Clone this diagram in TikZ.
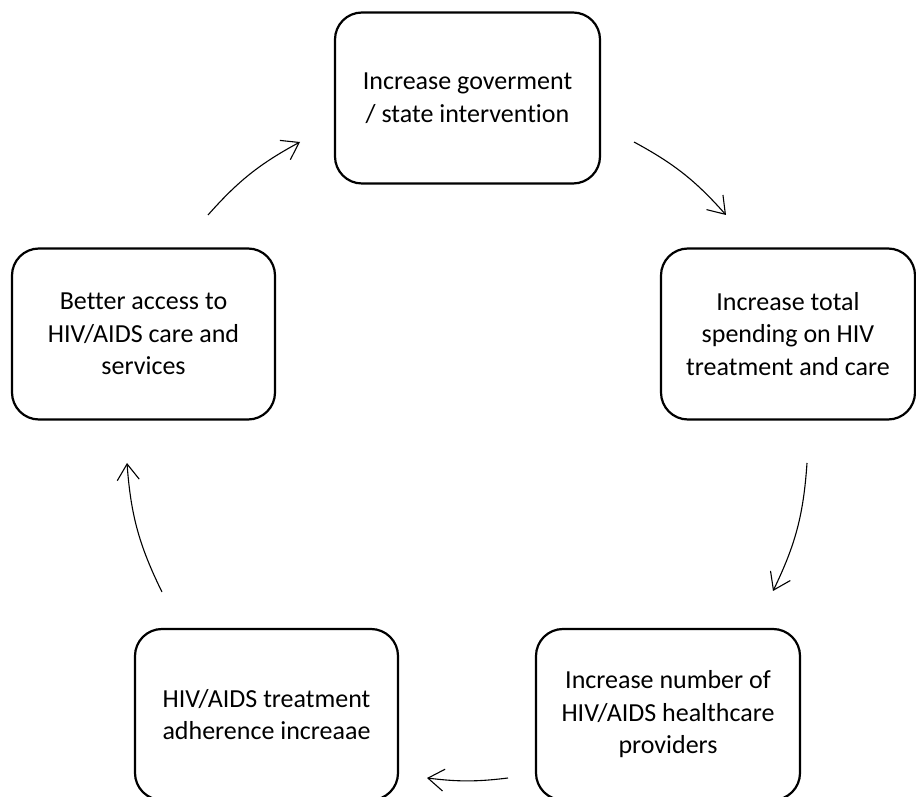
\documentclass[tikz,border=0pt]{standalone}
\usepackage{fontspec}
\setmainfont[Ligatures={NoCommon}]{Carlito}
\usepackage{tikz}
\usetikzlibrary{arrows.meta}

\begin{document}
\begin{tikzpicture}[x=1pt, y=1pt,
    cbox/.style={rectangle, rounded corners=27pt, draw, line width=2.2pt, minimum height=171pt, inner sep=0pt, align=center, font=\fontsize{26}{32.5}\selectfont},
    flow/.style={-{Straight Barb[length=16pt, width=22pt]}, line width=1.1pt}
]
\clip (0,0) rectangle (916,796);

\node[cbox, minimum width=265pt] (govt) at (467.5,698) {Increase goverment\\/ state intervention};
\node[cbox, minimum width=254pt] (spending) at (788,462) {Increase total\\spending on HIV\\treatment and care};
\node[cbox, minimum width=264pt] (providers) at (668,81.5) {Increase number of\\HIV/AIDS healthcare\\providers};
\node[cbox, minimum width=263pt] (adherence) at (266.5,81.5) {HIV/AIDS treatment\\adherence increaae};
\node[cbox, minimum width=263pt] (access) at (143.5,462) {Better access to\\HIV/AIDS care and\\services};

\coordinate (govt-out) at (634,654);
\coordinate (spending-in) at (726,581);
\coordinate (spending-out) at (807,333);
\coordinate (providers-in) at (773,205);
\coordinate (providers-out) at (508,18);
\coordinate (adherence-in) at (427,18);
\coordinate (adherence-out) at (162,204);
\coordinate (access-in) at (127,333);
\coordinate (access-out) at (208,581);
\coordinate (govt-in) at (300,654);

\draw[flow] (govt-out) to[bend left=10] (spending-in);
\draw[flow] (spending-out) to[bend left=11] (providers-in);
\draw[flow] (providers-out) to[bend left=7] (adherence-in);
\draw[flow] (adherence-out) to[bend left=11] (access-in);
\draw[flow] (access-out) to[bend left=10] (govt-in);

\end{tikzpicture}
\end{document}
